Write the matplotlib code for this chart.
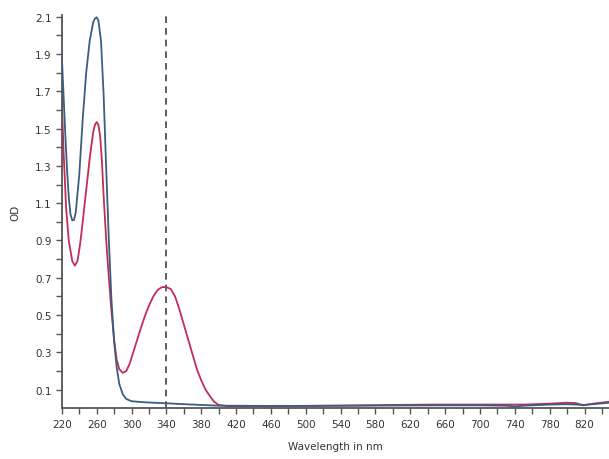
import matplotlib
matplotlib.use("Agg")
import matplotlib.pyplot as plt
from matplotlib.ticker import MultipleLocator, FixedLocator

# Wavelength (nm) and OD values
wl_blue = [220, 222, 224, 226, 228, 230, 232, 234, 236, 240, 244, 248, 252, 256, 258, 260,
           262, 265, 268, 271, 274, 277, 280, 283, 286, 290, 294, 300, 310, 320, 340,
           360, 380, 400, 450, 500, 550, 600, 650, 700, 730, 740, 750, 780, 800, 820, 848]
od_blue = [1.89, 1.68, 1.47, 1.28, 1.13, 1.04, 1.008, 1.01, 1.05, 1.25, 1.55, 1.80, 1.97, 2.07, 2.09, 2.097,
           2.08, 1.97, 1.68, 1.28, 0.90, 0.58, 0.36, 0.22, 0.13, 0.075, 0.05, 0.038, 0.034, 0.031, 0.027,
           0.022, 0.018, 0.014, 0.013, 0.013, 0.014, 0.015, 0.016, 0.016, 0.014, 0.010, 0.014, 0.020, 0.022, 0.018, 0.030]

wl_red = [220, 222, 225, 228, 232, 235, 238, 241, 244, 248, 252, 256, 258, 260, 262, 264,
          266, 268, 271, 274, 277, 280, 283, 286, 290, 294, 298, 302, 306, 310, 315, 320,
          325, 330, 335, 340, 345, 350, 355, 360, 365, 370, 375, 380, 385, 390, 395, 400,
          410, 450, 500, 550, 600, 650, 700, 750, 780, 800, 810, 818, 830, 848]
od_red = [1.66, 1.38, 1.07, 0.90, 0.79, 0.765, 0.79, 0.88, 1.00, 1.17, 1.34, 1.48, 1.52, 1.535, 1.52, 1.46,
          1.33, 1.14, 0.90, 0.70, 0.52, 0.37, 0.26, 0.21, 0.19, 0.20, 0.24, 0.30, 0.36, 0.42, 0.49, 0.55,
          0.60, 0.635, 0.65, 0.65, 0.64, 0.60, 0.53, 0.45, 0.37, 0.29, 0.21, 0.15, 0.10, 0.065, 0.035, 0.018,
          0.012, 0.012, 0.013, 0.015, 0.018, 0.020, 0.020, 0.020, 0.025, 0.030, 0.028, 0.016, 0.025, 0.035]

marker_wl = 340
x_major = list(range(220, 841, 40))
y_major = [0.1, 0.3, 0.5, 0.7, 0.9, 1.1, 1.3, 1.5, 1.7, 1.9, 2.1]
y_minor = [0.2, 0.4, 0.6, 0.8, 1.0, 1.2, 1.4, 1.6, 1.8, 2.0]

fig = plt.figure(figsize=(6.09, 4.60), dpi=100)
ax = fig.add_axes([61.8 / 609, (460 - 409.3) / 460, (609 - 61.8) / 609, (409.3 - 15.5) / 460])

ax.plot(wl_blue, od_blue, color="#3a5d80", lw=1.3, zorder=3)
ax.plot(wl_red, od_red, color="#c32c58", lw=1.3, zorder=2)
ax.axvline(marker_wl, color="#444444", lw=1.2, dashes=(4, 3), zorder=1)

ax.set_xlim(220, 848)
ax.set_ylim(0, 2.112)

ax.xaxis.set_major_locator(FixedLocator(x_major))
ax.xaxis.set_minor_locator(MultipleLocator(20))
ax.yaxis.set_major_locator(FixedLocator(y_major))
ax.yaxis.set_minor_locator(FixedLocator(y_minor))
ax.set_yticklabels([f"{v:.1f}" for v in y_major])

for s in ["top", "right"]:
    ax.spines[s].set_visible(False)
for s in ["left", "bottom"]:
    ax.spines[s].set_color("#555555")
    ax.spines[s].set_linewidth(1.3)

ax.tick_params(which="both", direction="out", length=4, width=1.0, color="#555555",
               labelsize=7.5, labelcolor="#333333", pad=3.5)

ax.set_xlabel("Wavelength in nm", fontsize=7.5, color="#333333", labelpad=9)
ax.set_ylabel("OD", fontsize=7.5, color="#333333", labelpad=10)

fig.savefig("out.png", dpi=100, facecolor="white")
